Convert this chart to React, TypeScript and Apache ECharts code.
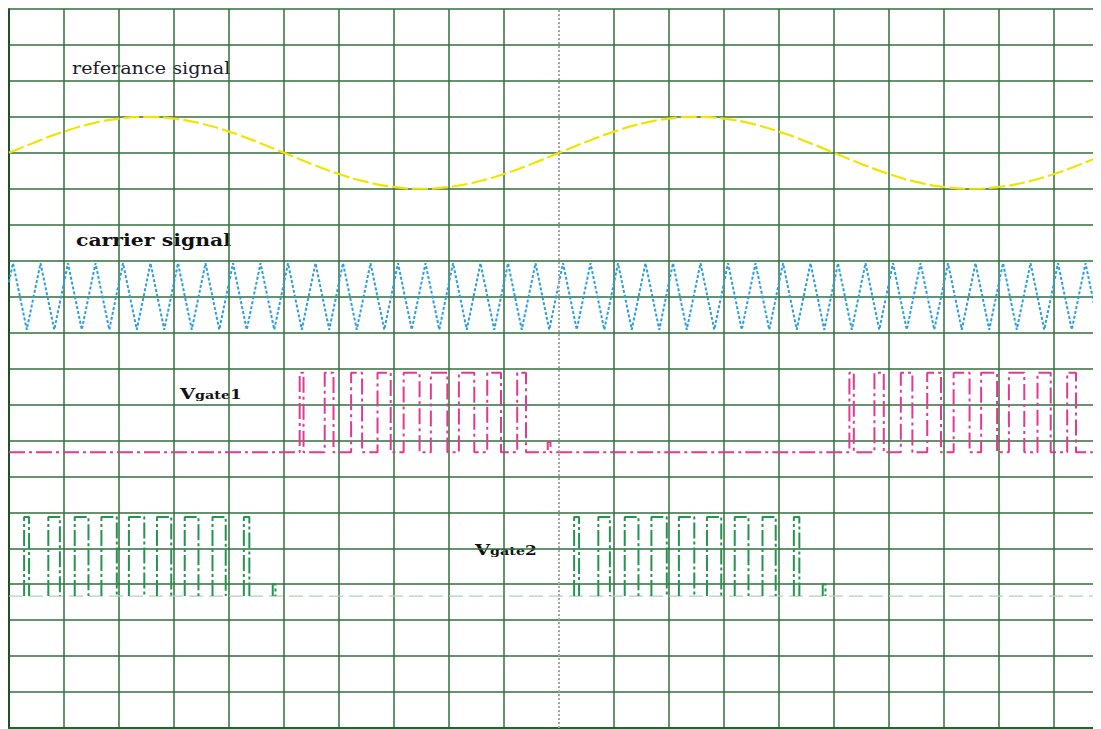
import React, { useEffect, useRef } from "react";
import * as echarts from "echarts";

// ---- layout rows (grid units, 20 rows from bottom) ----
const REF_ROW = 16;
const CARRIER_ROW = 12;
const VG1_BASE = 7.67;
const VG1_TOP = 9.88;
const VG2_BASE = 3.67;
const VG2_TOP = 5.87;

// ---- reference sine, read every half column ----
const REF_STEP = 0.5;
const REF_VALUES = [
  0, 0.31, 0.59, 0.81, 0.95, 1, 0.95, 0.81, 0.59, 0.31,
  0, -0.31, -0.59, -0.81, -0.95, -1, -0.95, -0.81, -0.59, -0.31,
  0, 0.31, 0.59, 0.81, 0.95, 1, 0.95, 0.81, 0.59, 0.31,
  0, -0.31, -0.59, -0.81, -0.95, -1, -0.95, -0.81, -0.59, -0.31, 0,
];

// ---- triangular carrier: vertices (peaks / troughs) ----
const CARRIER_START_VALUE = 0.4;
const CARRIER_FIRST_X = 0.073;
const CARRIER_STEP = 0.25;
const CARRIER_VERTICES = [
  0.93, -0.92, 0.93, -0.92, 0.93, -0.92, 0.93, -0.92, 0.93, -0.92,
  0.93, -0.92, 0.93, -0.92, 0.93, -0.92, 0.93, -0.92, 0.93, -0.92,
  0.93, -0.92, 0.93, -0.92, 0.93, -0.92, 0.93, -0.92, 0.93, -0.92,
  0.93, -0.92, 0.93, -0.92, 0.93, -0.92, 0.93, -0.92, 0.93, -0.92,
  0.93, -0.92, 0.93, -0.92, 0.93, -0.92, 0.93, -0.92, 0.93, -0.92,
  0.93, -0.92, 0.93, -0.92, 0.93, -0.92, 0.93, -0.92, 0.93, -0.92,
  0.93, -0.92, 0.93, -0.92, 0.93, -0.92, 0.93, -0.92, 0.93, -0.92,
  0.93, -0.92, 0.93, -0.92, 0.93, -0.92, 0.93, -0.92, 0.93, -0.92,
];

// ---- gate pulses (centre column, width in columns, relative height) ----
const VG1_CENTERS = [
  5.32, 5.82, 6.32, 6.82, 7.32, 7.82, 8.32, 8.82, 9.32, 9.82,
  15.32, 15.82, 16.32, 16.82, 17.32, 17.82, 18.32, 18.82, 19.32, 19.82,
];
const VG1_WIDTHS = [
  0.07, 0.16, 0.2, 0.24, 0.29, 0.3, 0.28, 0.25, 0.16, 0.05,
  0.08, 0.17, 0.21, 0.25, 0.29, 0.29, 0.28, 0.24, 0.16, 0.05,
];
const VG1_HEIGHTS = [1, 1, 1, 1, 1, 1, 1, 1, 1, 0.13, 1, 1, 1, 1, 1, 1, 1, 1, 1, 0.15];

const VG2_CENTERS = [
  0.32, 0.82, 1.32, 1.82, 2.32, 2.82, 3.32, 3.82, 4.32, 4.82,
  10.32, 10.82, 11.32, 11.82, 12.32, 12.82, 13.32, 13.82, 14.32, 14.82,
];
const VG2_WIDTHS = [
  0.09, 0.21, 0.25, 0.28, 0.28, 0.26, 0.25, 0.24, 0.1, 0.05,
  0.09, 0.21, 0.25, 0.28, 0.28, 0.26, 0.25, 0.24, 0.1, 0.05,
];
const VG2_HEIGHTS = [1, 1, 1, 1, 1, 1, 1, 1, 1, 0.15, 1, 1, 1, 1, 1, 1, 1, 1, 1, 0.15];

const GRID_GREEN = "#336e3e";

function buildGate(centers: number[], widths: number[], heights: number[], base: number, top: number, separate: boolean) {
  const out: any[] = [];
  if (!separate) out.push([0, base]);
  centers.forEach((c, i) => {
    const r = c - widths[i] / 2;
    const f = c + widths[i] / 2;
    const h = base + (top - base) * heights[i];
    out.push([r, base], [r, h], [f, h], [f, base]);
    if (separate) out.push(null);
  });
  if (!separate) out.push([20, base]);
  return out;
}

export default function App() {
  const ref = useRef<HTMLDivElement>(null);
  useEffect(() => {
    if (!ref.current) return;
    const chart = echarts.init(ref.current, undefined, { renderer: "svg" });

    const refData = REF_VALUES.map((v, i) => [i * REF_STEP, REF_ROW + v]);
    const carrierData: number[][] = [[0, CARRIER_ROW + CARRIER_START_VALUE]];
    CARRIER_VERTICES.forEach((v, i) => carrierData.push([CARRIER_FIRST_X + i * CARRIER_STEP, CARRIER_ROW + v]));
    const vg1 = buildGate(VG1_CENTERS, VG1_WIDTHS, VG1_HEIGHTS, VG1_BASE, VG1_TOP, false);
    const vg2 = buildGate(VG2_CENTERS, VG2_WIDTHS, VG2_HEIGHTS, VG2_BASE, VG2_TOP, true);

    const xColors = Array.from({ length: 21 }, (_, i) => (i === 10 ? "rgba(0,0,0,0)" : GRID_GREEN));

    const richGate = {
      v: { font: 'bold 15px "DejaVu Serif"', fill: "#111111", verticalAlign: "bottom" },
      s: { font: 'bold 11px "DejaVu Serif"', fill: "#111111", verticalAlign: "bottom" },
      n: { font: 'bold 13px "DejaVu Serif"', fill: "#111111", verticalAlign: "bottom" },
    };

    chart.setOption({
      animation: false,
      backgroundColor: "#ffffff",
      grid: { left: 1, top: 1, width: 1100, height: 719 },
      xAxis: {
        type: "value", min: 0, max: 20, interval: 1,
        axisLabel: { show: false }, axisTick: { show: false },
        axisLine: { show: true, lineStyle: { color: "#2a5e33", width: 2 } },
        splitLine: { show: true, lineStyle: { color: xColors, width: 1.5 } },
      },
      yAxis: {
        type: "value", min: 0, max: 20, interval: 1,
        axisLabel: { show: false }, axisTick: { show: false },
        axisLine: { show: true, lineStyle: { color: "#1f5228", width: 2 } },
        splitLine: { show: true, lineStyle: { color: GRID_GREEN, width: 1.5 } },
      },
      series: [
        {
          type: "line", data: refData, smooth: true, showSymbol: false, z: 3,
          lineStyle: { color: "#f2e400", width: 2.2, type: [16, 4] },
          markLine: {
            silent: true, symbol: "none", label: { show: false },
            lineStyle: { color: "#a6a6a6", width: 2, type: [2, 2] },
            data: [{ xAxis: 10 }],
          },
        },
        {
          type: "line", data: carrierData, showSymbol: false, z: 3,
          lineStyle: { color: "#2b9fe0", width: 2, type: [3, 2] },
        },
        {
          type: "line", data: vg1, showSymbol: false, z: 4,
          lineStyle: { color: "#e23a8f", width: 2, type: [16, 4, 3, 4] },
        },
        {
          type: "line", data: [[0, VG2_BASE], [20, VG2_BASE]], showSymbol: false, z: 3,
          lineStyle: { color: "#a9d6b6", width: 1.2, type: [14, 6] },
        },
        {
          type: "line", data: vg2, showSymbol: false, connectNulls: false, z: 4,
          lineStyle: { color: "#23954f", width: 2, type: [16, 3, 3, 3] },
        },
      ],
      graphic: [
        {
          type: "text", x: 64, y: 51, scaleX: 1.13,
          style: { text: "referance signal", font: '17px "DejaVu Serif"', fill: "#1b1b2b" },
        },
        {
          type: "text", x: 68, y: 223, scaleX: 1.2,
          style: { text: "carrier signal", font: 'bold 17px "DejaVu Serif"', fill: "#111111" },
        },
        {
          type: "text", x: 172, y: 378, scaleX: 1.3,
          style: { text: "{v|V}{s|gate}{n|1}", fill: "#111111", rich: richGate },
        },
        {
          type: "text", x: 467, y: 534, scaleX: 1.3,
          style: { text: "{v|V}{s|gate}{n|2}", fill: "#111111", rich: richGate },
        },
      ],
    });
    return () => chart.dispose();
  }, []);

  return (
    <div style={{ width: 1093, height: 721, overflow: "hidden" }}>
      <div ref={ref} style={{ width: 1110, height: 721 }} />
    </div>
  );
}
